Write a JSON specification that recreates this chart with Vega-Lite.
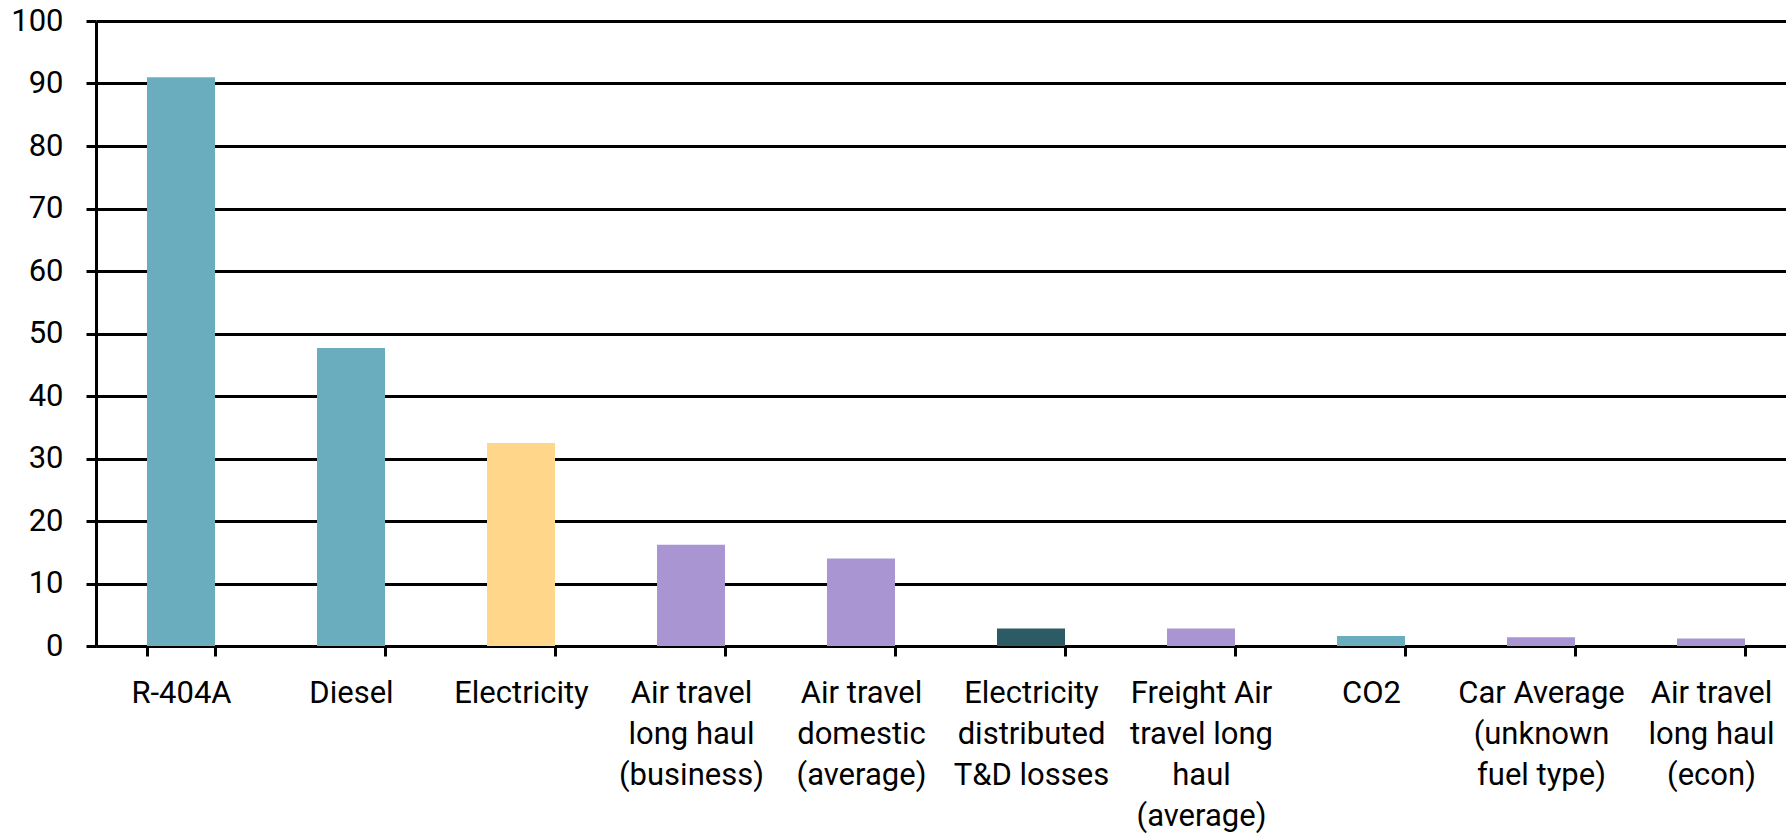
{
  "$schema": "https://vega.github.io/schema/vega-lite/v6.json",
  "width": 1690,
  "height": 625,
  "autosize": {"type": "none"},
  "padding": {"left": 96, "top": 21, "right": 0, "bottom": 188},
  "background": "white",
  "data": {
    "values": [
      {"source": "R-404A", "value": 91, "group": "Direct"},
      {"source": "Diesel", "value": 47.7, "group": "Direct"},
      {"source": "Electricity", "value": 32.5, "group": "Electricity"},
      {"source": "Air travel\nlong haul\n(business)", "value": 16.2, "group": "Travel"},
      {"source": "Air travel\ndomestic\n(average)", "value": 14.0, "group": "Travel"},
      {"source": "Electricity\ndistributed\nT&D losses", "value": 2.8, "group": "T&D losses"},
      {"source": "Freight Air\ntravel long\nhaul\n(average)", "value": 2.8, "group": "Travel"},
      {"source": "CO2", "value": 1.6, "group": "Direct"},
      {"source": "Car Average\n(unknown\nfuel type)", "value": 1.4, "group": "Travel"},
      {"source": "Air travel\nlong haul\n(econ)", "value": 1.2, "group": "Travel"}
    ]
  },
  "mark": {"type": "bar"},
  "encoding": {
    "x": {
      "field": "source",
      "type": "nominal",
      "sort": null,
      "scale": {"range": [0, 1700], "paddingInner": 0.6, "paddingOuter": 0.3},
      "axis": {
        "title": null,
        "labelAngle": 0,
        "labelExpr": "split(datum.label, '\\n')",
        "labelFont": "Roboto",
        "labelFontSize": 31,
        "labelLineHeight": 41,
        "labelColor": "#000000",
        "labelPadding": 22,
        "labelLimit": 0,
        "tickBand": "extent",
        "tickSize": 10,
        "tickWidth": 3,
        "tickColor": "#000000",
        "domainWidth": 3,
        "domainColor": "#000000",
        "grid": false
      }
    },
    "y": {
      "field": "value",
      "type": "quantitative",
      "scale": {"domain": [0, 100]},
      "axis": {
        "title": null,
        "values": [0, 10, 20, 30, 40, 50, 60, 70, 80, 90, 100],
        "labelFont": "Roboto",
        "labelFontSize": 31,
        "labelColor": "#000000",
        "labelPadding": 23,
        "tickSize": 10,
        "tickWidth": 3,
        "tickColor": "#000000",
        "domainWidth": 3,
        "domainColor": "#000000",
        "grid": true,
        "gridColor": "#000000",
        "gridWidth": 3,
        "gridOpacity": 1
      }
    },
    "color": {
      "field": "group",
      "type": "nominal",
      "scale": {
        "domain": ["Direct", "Electricity", "Travel", "T&D losses"],
        "range": ["#6AADBF", "#FFD68A", "#A895D1", "#2D5B65"]
      },
      "legend": null
    }
  },
  "config": {"view": {"stroke": null}}
}
